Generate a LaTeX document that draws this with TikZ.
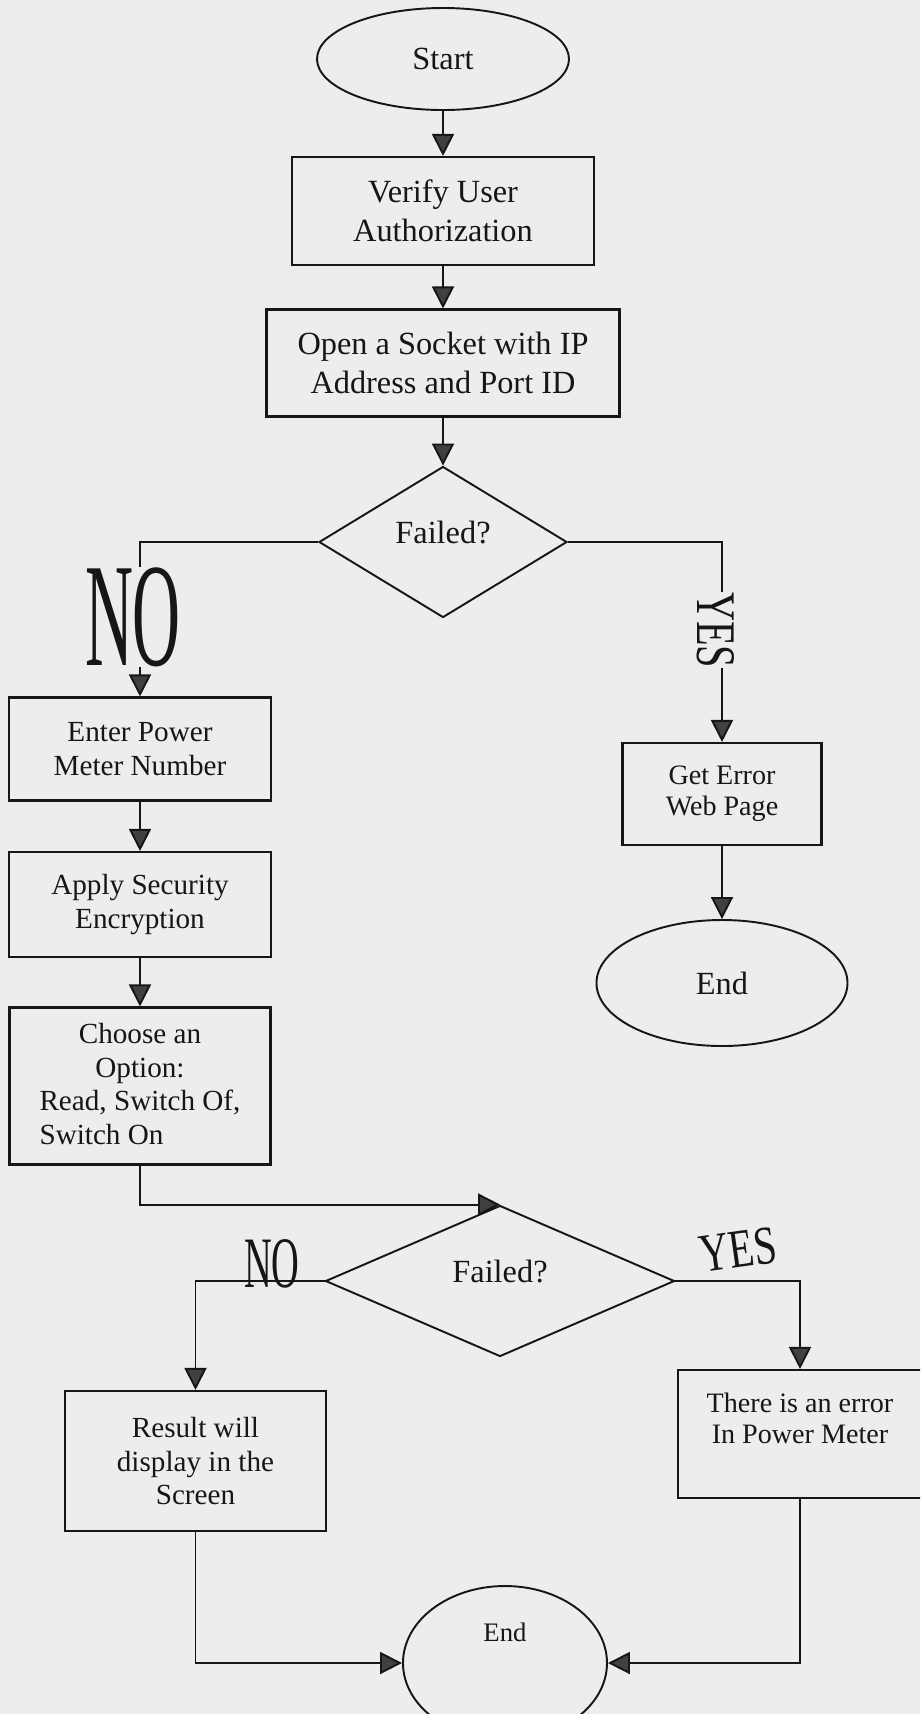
\documentclass[tikz,border=0pt]{standalone}
\usepackage{fontspec}
\setmainfont{Liberation Serif}
\usepackage{graphicx}
\usetikzlibrary{shapes.geometric,arrows.meta,positioning}

\definecolor{paper}{RGB}{237,237,235}
\definecolor{ink}{RGB}{22,22,22}

% narrow display letters for the yes/no branches
\newcommand{\branchlabel}[3]{\scalebox{#2}[1]{\fontsize{#1}{#1}\selectfont #3}}

\tikzset{
    flowline/.style={draw=ink, line width=0.55pt},
    arr/.style={flowline, -{Triangle[width=0.22cm,length=0.22cm,fill=black!75]}},
    term/.style={ellipse, draw=ink, line width=0.55pt, inner sep=0pt, align=center, text=ink},
    procbox/.style={rectangle, draw=ink, line width=0.6pt, inner sep=0pt, align=center, text=ink},
    decision/.style={diamond, draw=ink, line width=0.55pt, inner sep=0pt, text=ink,
        text depth=0.2cm, minimum width=2.48cm, minimum height=1.51cm},
    bigtxt/.style={font=\fontsize{9.2}{11}\selectfont},
    midtxt/.style={font=\fontsize{8.3}{9.6}\selectfont},
    smalltxt/.style={font=\fontsize{8}{8.8}\selectfont},
    branch/.style={text=ink, inner sep=0pt}
}

\begin{document}
\begin{tikzpicture}
    \useasboundingbox (0,0) rectangle (9.2,-17.14);
    \clip (0,0) rectangle (9.2,-17.14);
    \fill[paper] (0,0) rectangle (9.2,-17.14);

    % main column
    \node[term, bigtxt, minimum width=2.52cm, minimum height=1.02cm] (start) at (4.43,-0.59) {Start};
    \node[procbox, bigtxt, minimum width=3.02cm, minimum height=1.08cm] (verify) at (4.43,-2.11) {Verify User\\Authorization};
    \node[procbox, bigtxt, minimum width=3.53cm, minimum height=1.07cm] (socket) at (4.43,-3.63) {Open a Socket with IP\\Address and Port ID};
    \node[decision, bigtxt] (failA) at (4.43,-5.42) {Failed?};

    % left column
    \node[procbox, midtxt, minimum width=2.62cm, minimum height=1.03cm] (meter) at (1.40,-7.49) {Enter Power\\Meter Number};
    \node[procbox, midtxt, minimum width=2.62cm, minimum height=1.05cm] (secure) at (1.40,-9.045) {Apply Security\\Encryption};
    \node[procbox, midtxt, minimum width=2.61cm, minimum height=1.57cm] (option) at (1.40,-10.86)
        {Choose an\\Option:\\Read, Switch Of,\\\rlap{Switch On}\phantom{Read, Switch Of,}};

    % right column
    \node[procbox, smalltxt, minimum width=1.99cm, minimum height=1.02cm] (errpage) at (7.22,-7.94) {Get Error\\Web Page};
    \node[term, bigtxt, minimum width=2.51cm, minimum height=1.26cm] (endA) at (7.22,-9.83) {End};

    % second check
    \node[decision, bigtxt, minimum width=3.49cm] (failB) at (5.00,-12.81) {Failed?};
    \node[procbox, midtxt, minimum width=2.61cm, minimum height=1.40cm] (result) at (1.955,-14.61) {Result will\\display in the\\Screen};
    \node[procbox, smalltxt, text depth=0.31cm, minimum width=2.44cm, minimum height=1.28cm] (meterr) at (8.00,-14.34) {There is an error\\In Power Meter};
    \node[term, font=\fontsize{7.6}{9}\selectfont, text depth=0.62cm, minimum width=2.04cm, minimum height=1.54cm] (endB) at (5.05,-16.63) {End};

    \draw[arr] (start) -- (verify);
    \draw[arr] (verify) -- (socket);
    \draw[arr] (socket) -- (failA);
    \draw[arr] (failA.west) -| (meter.north);
    \draw[arr] (failA.east) -| (errpage.north);
    \draw[arr] (errpage) -- (endA);
    \draw[arr] (meter) -- (secure);
    \draw[arr] (secure) -- (option);
    \draw[arr] (option.south) |- (failB.north);
    \draw[arr] (failB.west) -| (result.north);
    \draw[arr] (failB.east) -| (meterr.north);
    \draw[arr] (result.south) |- (endB.west);
    \draw[arr] (meterr.south) |- (endB.east);

    % branch words
    \node[branch, fill=paper] (noA) at (1.33,-6.17) {\branchlabel{42}{0.45}{NO}};
    \node[branch, fill=paper, rotate=-90] (yesA) at (7.16,-6.30) {\branchlabel{15.9}{0.72}{YES}};
    \node[branch] (noB) at (2.72,-12.64) {\branchlabel{20.6}{0.53}{NO}};
    \node[branch, rotate=8] (yesB) at (7.38,-12.50) {\branchlabel{15.5}{0.75}{YES}};
\end{tikzpicture}
\end{document}
